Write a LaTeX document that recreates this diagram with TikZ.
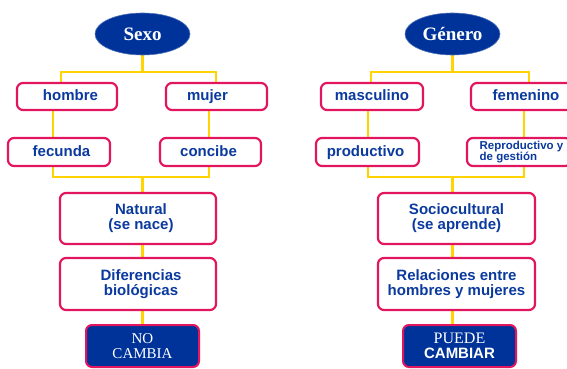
\documentclass[tikz,border=0pt]{standalone}
\usepackage{fontspec}
\setmainfont{Liberation Serif}
\setsansfont{Liberation Sans}
\usetikzlibrary{shapes.geometric}
\definecolor{dblue}{HTML}{003399}
\definecolor{tblue}{HTML}{0B3A9E}
\definecolor{pinkb}{HTML}{E2165E}
\definecolor{ylw}{HTML}{FFD400}
\pgfdeclarelayer{bg}
\pgfsetlayers{bg,main}
\begin{document}
\begin{tikzpicture}[x=1pt,y=-1pt,
  oval/.style={ellipse, fill=dblue, draw=dblue!70!white, line width=0.6pt, minimum width=95pt, minimum height=42pt, inner sep=0pt, text=white, font=\fontsize{19}{20}\selectfont\bfseries},
  box/.style={draw=pinkb, line width=2.2pt, rounded corners=6pt, fill=white, text=tblue, inner sep=0pt, align=center, font=\sffamily\bfseries\fontsize{15}{15}\selectfont},
  small/.style={box, font=\sffamily\bfseries\fontsize{15}{15}\selectfont, minimum height=27pt, text height=11pt, text depth=3pt},
  darkbox/.style={draw=pinkb, fill=dblue, line width=2pt, rounded corners=6pt, text=white, inner sep=0pt, align=center, minimum width=113pt, minimum height=42pt, font=\fontsize{15}{14.5}\selectfont},
  conn/.style={draw=ylw, line width=2.8pt}
]
\useasboundingbox (0,0) rectangle (567,369);
\clip (0,0) rectangle (567,369);

% ---------- left: Sexo ----------
\node[oval] (sexo) at (142.5,34) {Sexo};
\node[small, minimum width=100pt] (hombre) at (67,96.5) {\kern7pt hombre};
\node[small, minimum width=101pt] (mujer) at (216.5,96.5) {mujer\kern18pt};
\node[small, minimum width=102pt, minimum height=28pt] (fecunda) at (59,152) {\kern5pt fecunda};
\node[small, minimum width=101pt, minimum height=28pt] (concibe) at (210.5,152) {concibe\kern4pt};
\node[box, minimum width=156pt, minimum height=51pt] (natural) at (138,218.5) {\kern6pt Natural\\\kern6pt(se nace)};
\node[box, minimum width=156pt, minimum height=52pt] (dif) at (138,284) {\kern6pt Diferencias\\\kern6pt biológicas};
\node[darkbox] (nocambia) at (142.5,346) {NO\\CAMBIA};

\coordinate (sA) at (61,72);
\coordinate (sB) at (216,72);
\coordinate (sC) at (53,177);
\coordinate (sD) at (209,177);

% ---------- right: Género ----------
\node[oval] (genero) at (452.5,34) {Género};
\node[small, minimum width=102pt] (masc) at (372,96.5) {masculino};
\node[small, minimum width=104pt] (fem) at (523,96.5) {\kern6pt femenino};
\node[small, minimum width=103pt, minimum height=28pt] (prod) at (367.5,152) {productivo\kern4pt};
\node[box, minimum width=104pt, minimum height=28pt, align=left,
      font=\sffamily\bfseries\fontsize{11.5}{10.5}\selectfont] (repro) at (519,152) {\kern5pt Reproductivo y\\\kern5pt de gestión};
\node[box, minimum width=157pt, minimum height=51pt] (socio) at (456.5,218.5) {Sociocultural\\(se aprende)};
\node[box, minimum width=157pt, minimum height=52pt] (relac) at (456.5,284) {Relaciones entre\\hombres y mujeres};
\node[darkbox] (puede) at (459.5,346) {\fontsize{16}{14.5}\selectfont PUEDE\\\sffamily\bfseries CAMBIAR};

\coordinate (gA) at (371,72);
\coordinate (gB) at (529,72);
\coordinate (gC) at (368,177);
\coordinate (gD) at (524,177);

% ---------- connectors ----------
\begin{pgfonlayer}{bg}
\fill[white] (0,0) rectangle (567,369);
\draw[conn] (sexo.center) -- (sexo.center |- sA);
\draw[conn] (sA |- hombre.center) -- (sA) -- (sB) -- (sB |- mujer.center);
\draw[conn] (sC |- hombre.center) -- (sC) -- (sD) -- (sD |- mujer.center);
\draw[conn] (sexo.center |- sC) -- (sexo.center |- nocambia.center);

\draw[conn] (genero.center) -- (genero.center |- gA);
\draw[conn] (gA |- masc.center) -- (gA) -- (gB) -- (gB |- fem.center);
\draw[conn] (gC |- masc.center) -- (gC) -- (gD) -- (gD |- fem.center);
\draw[conn] (genero.center |- gC) -- (genero.center |- puede.center);
\end{pgfonlayer}
\end{tikzpicture}
\end{document}
